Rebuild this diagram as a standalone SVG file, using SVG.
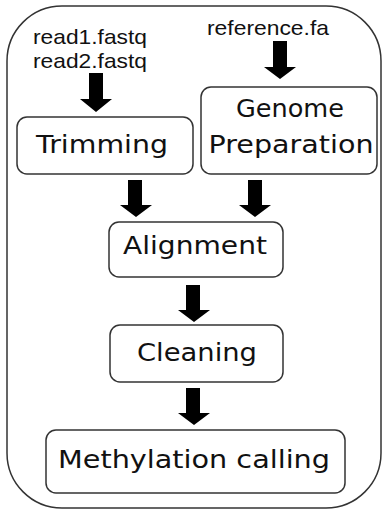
<svg xmlns="http://www.w3.org/2000/svg" width="384" height="510" viewBox="0 0 384 510">
<style>
.frame{fill:#fff;stroke:#333;stroke-width:1.5}
.box{fill:#fff;stroke:#333;stroke-width:1.5}
.lbl{font-family:"DejaVu Sans",sans-serif;font-size:25px;fill:#111;text-anchor:middle}
.file{font-family:"Liberation Sans",Arial,sans-serif;font-size:21px;fill:#111}
.arr{fill:#000}
</style>
<defs>
<path id="arr" d="M-7,0 H7 V-12 H16 L0,0 L-16,-12 H-7 Z"/>
</defs>
<rect class="frame" x="7" y="6" width="374" height="502" rx="55" ry="55"/>
<g id="inputs">
<text class="file" x="33" y="44" textLength="114" lengthAdjust="spacingAndGlyphs">read1.fastq</text>
<text class="file" x="33" y="68" textLength="114" lengthAdjust="spacingAndGlyphs">read2.fastq</text>
<text class="file" x="207" y="35" textLength="122" lengthAdjust="spacingAndGlyphs">reference.fa</text>
</g>
<g id="trimming">
<rect class="box" x="17" y="117" width="176" height="57" rx="10"/>
<text class="lbl" x="102" y="153" textLength="132" lengthAdjust="spacingAndGlyphs">Trimming</text>
</g>
<g id="genome">
<rect class="box" x="201" y="87" width="176" height="87" rx="10"/>
<text class="lbl" x="290" y="117" textLength="108" lengthAdjust="spacingAndGlyphs">Genome</text>
<text class="lbl" x="291" y="153" textLength="165" lengthAdjust="spacingAndGlyphs">Preparation</text>
</g>
<g id="alignment">
<rect class="box" x="109" y="222" width="174" height="55" rx="10"/>
<text class="lbl" x="195" y="254" textLength="144" lengthAdjust="spacingAndGlyphs">Alignment</text>
</g>
<g id="cleaning">
<rect class="box" x="110" y="325" width="173" height="57" rx="10"/>
<text class="lbl" x="197" y="361" textLength="120" lengthAdjust="spacingAndGlyphs">Cleaning</text>
</g>
<g id="methylation">
<rect class="box" x="46" y="430" width="299" height="63" rx="10"/>
<text class="lbl" x="194" y="468" textLength="272" lengthAdjust="spacingAndGlyphs">Methylation calling</text>
</g>
<g id="connectors" class="arr">
<path d="M89,73 H103 V99 H112 L96,112 L80,99 H89 Z"/>
<path d="M273,41 H287 V67 H296 L280,79 L264,67 H273 Z"/>
<path d="M128,180 H142 V205 H152 L136,217 L120,205 H128 Z"/>
<path d="M248,180 H262 V205 H271 L255,217 L239,205 H248 Z"/>
<path d="M186,285 H200 V310 H210 L194,322 L178,310 H186 Z"/>
<path d="M186,388 H200 V413 H210 L194,425 L178,413 H186 Z"/>
</g>
</svg>
